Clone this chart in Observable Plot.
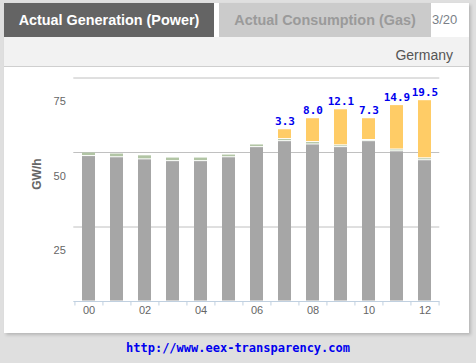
<!DOCTYPE html>
<html>
<head>
<meta charset="utf-8">
<script src="https://cdn.jsdelivr.net/npm/d3@7"></script>
<script src="https://cdn.jsdelivr.net/npm/@observablehq/plot@0.6"></script>
<style>
  html, body { margin: 0; padding: 0; }
  body { width: 476px; height: 363px; background: #dfdfdf; position: relative; overflow: hidden; font-family: "Liberation Sans", Arial, sans-serif; }
  #panel { position: absolute; left: 4px; top: 3px; width: 465px; height: 330px; background: #fff; box-shadow: 2px 2px 3px rgba(0,0,0,0.18); }
  .tab { position: absolute; top: 0; height: 34px; line-height: 34px; text-align: center; font-weight: bold; font-size: 14.4px; }
  #tab1 { left: 0; width: 210px; background: #646464; color: #fff; }
  #tab2 { left: 215px; width: 212px; background: #cbcbcb; color: #9a9a9a; }
  #date { position: absolute; left: 427px; top: 0; width: 38px; height: 34px; line-height: 34px; font-size: 13px; color: #7a7f88; padding-left: 1px; }
  #region { position: absolute; left: 0; top: 34px; width: 465px; height: 29px; background: #f2f2f2; border-bottom: 1px solid #cfcfcf; text-align: right; font-size: 14px; line-height: 36px; color: #555; }
  #region span { padding-right: 16px; }
  #chart { position: absolute; left: 0; top: 64px; }
  #footer { position: absolute; left: 0; top: 341px; width: 476px; text-align: center; font-family: "DejaVu Sans Mono", monospace; font-weight: bold; font-size: 12px; color: #0000ee; }
</style>
</head>
<body>
<div id="panel">
  <div class="tab" id="tab1">Actual Generation (Power)</div>
  <div class="tab" id="tab2">Actual Consumption (Gas)</div>
  <div id="date">3/20</div>
  <div id="region"><span>Germany</span></div>
  <div id="chart"></div>
</div>
<div id="footer">http://www.eex-transparency.com</div>
<script>
const hours = [0, 1, 2, 3, 4, 5, 6, 7, 8, 9, 10, 11, 12];
const conventional = [48.8, 48.4, 47.7, 47.1, 47.1, 48.4, 51.8, 53.8, 52.7, 51.8, 53.8, 50.4, 47.4];
const wind = [1.2, 1.25, 1.35, 1.2, 1.2, 0.9, 0.9, 0.7, 0.8, 0.6, 0.4, 0.6, 0.65];
const solar = [0, 0, 0, 0, 0, 0, 0, 3.3, 8.0, 12.1, 7.3, 14.9, 19.5];
const seriesNames = ["Conventional", "Wind", "Solar"];
const seriesColors = ["#a6a6a6", "#b2c5a5", "#ffcc66"];
const yTicks = [25, 50, 75];
const xLabelTicks = [0, 2, 4, 6, 8, 10, 12];

const rows = [];
hours.forEach((h, i) => {
  rows.push({hour: h, series: "Conventional", value: conventional[i]});
  rows.push({hour: h, series: "Wind", value: wind[i]});
  if (solar[i] > 0) rows.push({hour: h, series: "Solar", value: solar[i]});
});
const labels = hours.map((h, i) => ({hour: h, total: conventional[i] + wind[i] + solar[i], solar: solar[i]})).filter(d => d.solar > 0);

const W = 465, H = 266, ML = 69.3, MR = 29.7;
const step = (W - ML - MR) / hours.length;

const chart = Plot.plot({
  width: W,
  height: H,
  marginLeft: ML,
  marginRight: MR,
  marginTop: 10.5,
  marginBottom: 32,
  style: {fontFamily: "'Liberation Sans', Arial, sans-serif", background: "transparent", overflow: "visible"},
  x: {type: "band", domain: hours, paddingInner: 0.54, paddingOuter: 0.27, axis: null},
  y: {domain: [0, 75], axis: null},
  color: {domain: seriesNames, range: seriesColors},
  marks: [
    Plot.gridY(yTicks, {stroke: "#c0c0c0", strokeOpacity: 1}),
    Plot.barY(rows, Plot.stackY({x: "hour", y: "value", fill: "series", order: seriesNames, insetTop: 0.5, insetBottom: 0.5})),
    Plot.ruleY([0], {stroke: "#c0d0e0"}),
    Plot.axisX({ticks: hours, tickFormat: () => "", tickSize: 4.5, stroke: "#c0d0e0", dx: -step / 2, label: null}),
    Plot.axisX({ticks: [12], tickFormat: () => "", tickSize: 4.5, stroke: "#c0d0e0", dx: step / 2, label: null}),
    Plot.axisX({ticks: xLabelTicks, tickFormat: d => String(d).padStart(2, "0"), tickSize: 0, tickPadding: 5, fontSize: 11, color: "#666", fill: "#666", label: null}),
    Plot.axisY({ticks: yTicks, tickSize: 0, tickPadding: 8, dy: 23.5, fontSize: 11, color: "#666", fill: "#666", label: null}),
    Plot.text(["GW/h"], {frameAnchor: "left", rotate: -90, dx: -36.3, dy: 0, fontWeight: "bold", fontSize: 12, fill: "#666"}),
    Plot.text(labels, {x: "hour", y: "total", text: d => d.solar.toFixed(1), lineAnchor: "bottom", dy: -4, fill: "#0000ee", fontWeight: "bold", fontSize: 11, fontFamily: "'DejaVu Sans Mono', monospace"})
  ]
});
document.getElementById("chart").appendChild(chart);
</script>
</body>
</html>
